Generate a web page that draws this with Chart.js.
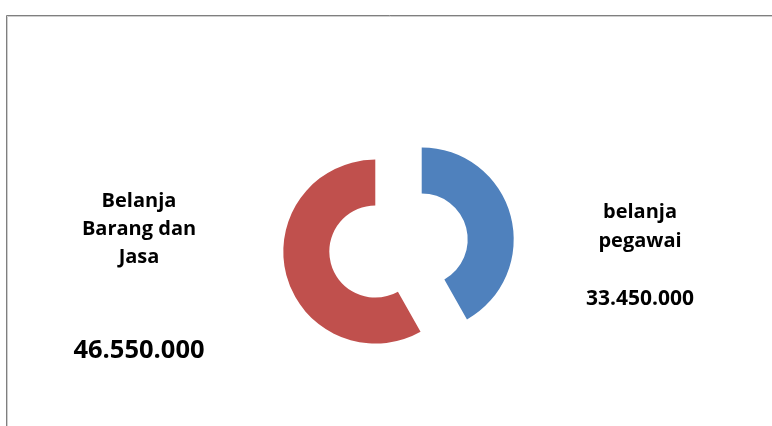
<!DOCTYPE html>
<html>
<head>
<meta charset="utf-8">
<script src="https://cdn.jsdelivr.net/npm/chart.js@4/dist/chart.umd.min.js"></script>
<style>
  html, body { margin: 0; padding: 0; background: #ffffff; }
  #c { display: block; }
</style>
</head>
<body>
<canvas id="c" width="772" height="426"></canvas>
<script>
// ---- data ----
const categories = ['belanja pegawai', 'Belanja Barang dan Jasa'];
const labelLines = [['belanja', 'pegawai'], ['Belanja', 'Barang dan', 'Jasa']];
const values = [33450000, 46550000];
const colors = ['#4F81BD', '#C0504D'];

function fmt(v) {
  return String(v).replace(/\B(?=(\d{3})+(?!\d))/g, '.');
}

// frame around the chart (partially visible, like the source)
const framePlugin = {
  id: 'frame',
  beforeDraw(chart) {
    const ctx = chart.ctx;
    ctx.save();
    ctx.fillStyle = '#ffffff';
    ctx.fillRect(0, 0, chart.width, chart.height);
    ctx.lineWidth = 1;
    ctx.strokeStyle = '#cfcfcf';
    ctx.beginPath();
    ctx.moveTo(7.5, chart.height + 5);
    ctx.lineTo(7.5, 16.5);
    ctx.lineTo(chart.width + 5, 16.5);
    ctx.stroke();
    ctx.strokeStyle = '#7f7f7f';
    ctx.beginPath();
    ctx.moveTo(6.5, chart.height + 5);
    ctx.lineTo(6.5, 15.5);
    ctx.lineTo(chart.width + 5, 15.5);
    ctx.stroke();
    ctx.restore();
  }
};

// exploded slices: push each arc outward along its mid angle
const EXPLODE = 24;
const explodePlugin = {
  id: 'explode',
  afterDatasetUpdate(chart, args) {
    const meta = args.meta || chart.getDatasetMeta(args.index);
    meta.data.forEach(el => {
      const mid = (el.startAngle + el.endAngle) / 2;
      el.x += Math.cos(mid) * EXPLODE;
      el.y += Math.sin(mid) * EXPLODE;
    });
  }
};

// data labels placed outside the ring, as in the source
const labelPos = [
  { x: 640, lines: [218, 247], value: 305, nameSize: 20, valueSize: 21 },
  { x: 139, lines: [207, 235, 263], value: 358, nameSize: 20, valueSize: 25.5 }
];
const labelPlugin = {
  id: 'sliceLabels',
  afterDraw(chart) {
    const ctx = chart.ctx;
    const ds = chart.data.datasets[0];
    ctx.save();
    ctx.fillStyle = '#000000';
    ctx.textAlign = 'center';
    ctx.textBaseline = 'alphabetic';
    ds.data.forEach((v, i) => {
      const p = labelPos[i];
      ctx.font = 'bold ' + p.nameSize + 'px "Open Sans", sans-serif';
      labelLines[i].forEach((t, k) => ctx.fillText(t, p.x, p.lines[k]));
      ctx.font = 'bold ' + p.valueSize + 'px "Open Sans", sans-serif';
      ctx.fillText(fmt(v), p.x, p.value);
    });
    ctx.restore();
  }
};

new Chart(document.getElementById('c'), {
  type: 'doughnut',
  data: {
    labels: categories,
    datasets: [{
      data: values,
      backgroundColor: colors,
      borderWidth: 0,
      radius: 92,
      cutout: '50%'
    }]
  },
  options: {
    responsive: false,
    animation: false,
    layout: { padding: { left: 25, top: 65, right: 0, bottom: 0 } },
    plugins: {
      legend: { display: false },
      tooltip: { enabled: false }
    }
  },
  plugins: [framePlugin, explodePlugin, labelPlugin]
});
</script>
</body>
</html>
